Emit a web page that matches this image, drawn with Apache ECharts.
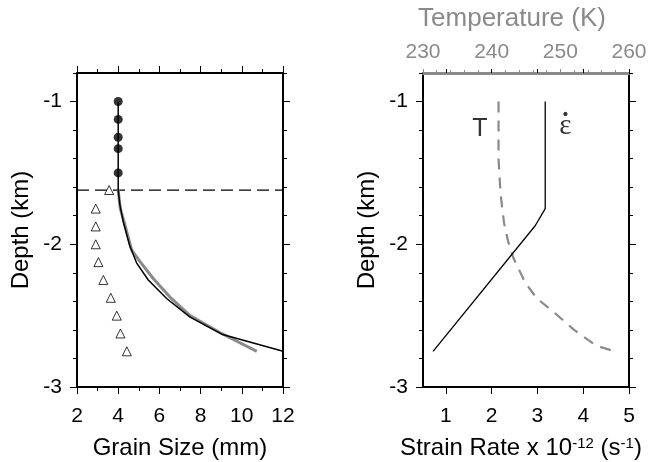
<!DOCTYPE html>
<html>
<head>
<meta charset="utf-8">
<script src="https://cdn.jsdelivr.net/npm/echarts@6.0.0/dist/echarts.min.js"></script>
<style>
  html, body { margin: 0; padding: 0; background: #fff; }
  #chart { width: 650px; height: 462px; }
</style>
</head>
<body>
<div id="chart"></div>
<script>
// ---- data ----
// left panel: grain size vs depth
const dotSize = [4, 4, 4, 4, 4];
const dotDepth = [-1, -1.125, -1.25, -1.33, -1.5];
const triSize = [3.56, 2.91, 2.91, 2.91, 3.04, 3.28, 3.64, 3.93, 4.11, 4.42];
const triDepth = [-1.62, -1.75, -1.875, -2.0, -2.125, -2.25, -2.375, -2.5, -2.625, -2.75];
const modelSize = [4, 4, 4.08, 4.24, 4.56, 4.89, 5.46, 6.35, 7.49, 9.03, 12.0];
const modelDepth = [-1, -1.62, -1.72, -1.84, -2.01, -2.13, -2.25, -2.38, -2.51, -2.63, -2.75];
const fitSize = [4.0, 4.1, 4.32, 4.65, 5.05, 5.7, 6.51, 7.49, 8.95, 10.73];
const fitDepth = [-1.62, -1.75, -1.86, -2.04, -2.12, -2.24, -2.37, -2.5, -2.62, -2.75];
const boundaryDepth = -1.62;

// right panel: strain rate and temperature vs depth
const strainRate = [3.17, 3.17, 2.95, 0.72];
const strainDepth = [-1, -1.75, -1.87, -2.75];
const tempK = [241.0, 241.0, 241.3, 241.8, 242.4, 243.2, 244.1, 244.9, 246.6, 249.4, 252.0, 255.2, 257.9];
const tempDepth = [-1.0, -1.4, -1.65, -1.85, -1.98, -2.1, -2.19, -2.27, -2.38, -2.49, -2.6, -2.71, -2.75];
const curveNames = ['{t|T}', '{dot|˙}\n{eps|ε}'];
const curveNameX = [1.74, 3.61];
const curveNameY = [-1.19, -1.17];

// ticks and labels
const depthLabels = [-3, -2, -1];
const grainLabels = [2, 4, 6, 8, 10, 12];
const strainTicks = [1, 2, 3, 4, 5];
const tempLabels = [230, 240, 250, 260];

const FONT = 'Liberation Sans';
const GRAY = '#8a8a8a';
const zip = (a, b) => a.map((v, i) => [v, b[i]]);

const frameLine = { show: true, lineStyle: { color: '#000', width: 2 } };
const tickStyle = { color: '#000', width: 1 };
const labelStyle = { color: '#000', fontFamily: FONT, fontSize: 21 };
const nameStyle = { color: '#000', fontFamily: FONT, fontSize: 24 };

function depthAxes(gridIndex) {
    const base = {
        type: 'value', gridIndex, min: -3, max: -0.8, interval: 0.2,
        splitLine: { show: false }
    };
    return [
        {
            ...base, position: 'left',
            axisLine: frameLine,
            axisTick: { show: true, inside: false, length: 4, lineStyle: tickStyle },
            axisLabel: { ...labelStyle, customValues: depthLabels, margin: 15 },
            name: 'Depth (km)', nameLocation: 'middle', nameGap: 44, nameRotate: 90,
            nameTextStyle: nameStyle
        },
        {
            ...base, position: 'left',
            axisLine: { show: false },
            axisTick: { show: true, customValues: depthLabels, length: 7, lineStyle: tickStyle },
            axisLabel: { show: false }
        },
        {
            ...base, position: 'right',
            axisLine: frameLine,
            axisTick: { show: true, inside: false, length: 4, lineStyle: tickStyle },
            axisLabel: { show: false }
        },
        {
            ...base, position: 'right',
            axisLine: { show: false },
            axisTick: { show: true, customValues: depthLabels, length: 7, lineStyle: tickStyle },
            axisLabel: { show: false }
        }
    ];
}

const xAxes = [
    // 0: grain size, bottom
    {
        type: 'value', gridIndex: 0, position: 'bottom', min: 2, max: 12, interval: 2,
        axisLine: frameLine,
        axisTick: { show: true, inside: false, length: 7, lineStyle: tickStyle },
        minorTick: { show: true, splitNumber: 2, length: 4, lineStyle: tickStyle },
        axisLabel: { ...labelStyle, customValues: grainLabels, margin: 19 },
        splitLine: { show: false },
        name: 'Grain Size (mm)', nameLocation: 'middle', nameGap: 49,
        nameTextStyle: nameStyle
    },
    // 1: grain size, top frame
    {
        type: 'value', gridIndex: 0, position: 'top', min: 2, max: 12, interval: 2,
        axisLine: frameLine,
        axisTick: { show: true, inside: false, length: 7, lineStyle: tickStyle },
        minorTick: { show: true, splitNumber: 2, length: 4, lineStyle: tickStyle },
        axisLabel: { show: false },
        splitLine: { show: false }
    },
    // 2: strain rate, bottom
    {
        type: 'value', gridIndex: 1, position: 'bottom', min: 0.5, max: 5,
        axisLine: frameLine,
        axisTick: { show: true, customValues: strainTicks, length: 7, lineStyle: tickStyle },
        axisLabel: { ...labelStyle, customValues: strainTicks, margin: 19 },
        splitLine: { show: false },
        name: 'Strain Rate x 10{sup|-12} (s{sup|-1})', nameLocation: 'middle', nameGap: 49,
        nameTextStyle: {
            ...nameStyle,
            padding: [0, 10, 0, 0],
            rich: { sup: { fontFamily: FONT, fontSize: 15, color: '#000', verticalAlign: 'top' } }
        }
    },
    // 3: temperature, top (gray)
    {
        type: 'value', gridIndex: 1, position: 'top', min: 230, max: 260, interval: 10,
        axisLine: { show: true, lineStyle: { color: GRAY, width: 3 } },
        axisTick: { show: true, inside: false, length: 4, lineStyle: { color: GRAY, width: 1 } },
        minorTick: { show: true, splitNumber: 5, length: 3, lineStyle: { color: GRAY, width: 1 } },
        axisLabel: { ...labelStyle, color: GRAY, customValues: tempLabels, margin: 10 },
        splitLine: { show: false },
        name: 'Temperature (K)', nameLocation: 'middle', nameGap: 41,
        nameTextStyle: { ...nameStyle, color: GRAY, fontSize: 26, padding: [0, 28, 0, 0] }
    },
    // 4: strain rate ticks on top frame
    {
        type: 'value', gridIndex: 1, position: 'top', min: 0.5, max: 5,
        axisLine: { show: false },
        axisTick: { show: true, customValues: strainTicks, length: 4, lineStyle: tickStyle },
        axisLabel: { show: false },
        splitLine: { show: false }
    }
];

const chart = echarts.init(document.getElementById('chart'), null, { renderer: 'canvas' });

chart.setOption({
    animation: false,
    backgroundColor: '#fff',
    grid: [
        { left: 77, top: 73, width: 206, height: 314, outerBoundsMode: 'none' },
        { left: 423, top: 73, width: 206, height: 314, outerBoundsMode: 'none' }
    ],
    xAxis: xAxes,
    yAxis: [...depthAxes(0), ...depthAxes(1)],
    series: [
        {
            type: 'line', xAxisIndex: 0, yAxisIndex: 0,
            data: [[2, boundaryDepth], [12, boundaryDepth]],
            symbol: 'none', lineStyle: { color: '#000', width: 1.3, type: [12, 6] }, z: 2
        },
        {
            type: 'line', xAxisIndex: 0, yAxisIndex: 0, data: zip(fitSize, fitDepth),
            symbol: 'none', lineStyle: { color: GRAY, width: 3 }, z: 3
        },
        {
            type: 'line', xAxisIndex: 0, yAxisIndex: 0, data: zip(modelSize, modelDepth),
            symbol: 'none', lineStyle: { color: '#000', width: 1.5 }, z: 4
        },
        {
            type: 'scatter', xAxisIndex: 0, yAxisIndex: 0, data: zip(dotSize, dotDepth),
            symbol: 'circle', symbolSize: 9, itemStyle: { color: '#000' }, z: 5
        },
        {
            type: 'scatter', xAxisIndex: 0, yAxisIndex: 0, data: zip(triSize, triDepth),
            symbol: 'triangle', symbolSize: 9,
            itemStyle: { color: '#fff', borderColor: '#000', borderWidth: 1 }, z: 5
        },
        {
            type: 'line', xAxisIndex: 3, yAxisIndex: 4, data: zip(tempK, tempDepth),
            symbol: 'none', lineStyle: { color: GRAY, width: 2.2, type: [11, 8] }, z: 3
        },
        {
            type: 'line', xAxisIndex: 2, yAxisIndex: 4, data: zip(strainRate, strainDepth),
            symbol: 'none', lineStyle: { color: '#000', width: 1.3 }, z: 4
        },
        {
            type: 'scatter', xAxisIndex: 2, yAxisIndex: 4,
            data: curveNames.map((n, i) => ({ value: [curveNameX[i], curveNameY[i]], name: n })),
            symbolSize: 0,
            label: {
                show: true, position: 'inside', formatter: p => p.name,
                color: '#000',
                rich: {
                    t: { fontFamily: FONT, fontSize: 25, color: '#000' },
                    dot: { fontFamily: 'Liberation Serif', fontSize: 28, lineHeight: 2, color: '#000', fontWeight: 'bold' },
                    eps: { fontFamily: 'Liberation Serif', fontSize: 29, lineHeight: 4, color: '#000' }
                }
            },
            z: 6
        }
    ]
});
</script>
</body>
</html>
